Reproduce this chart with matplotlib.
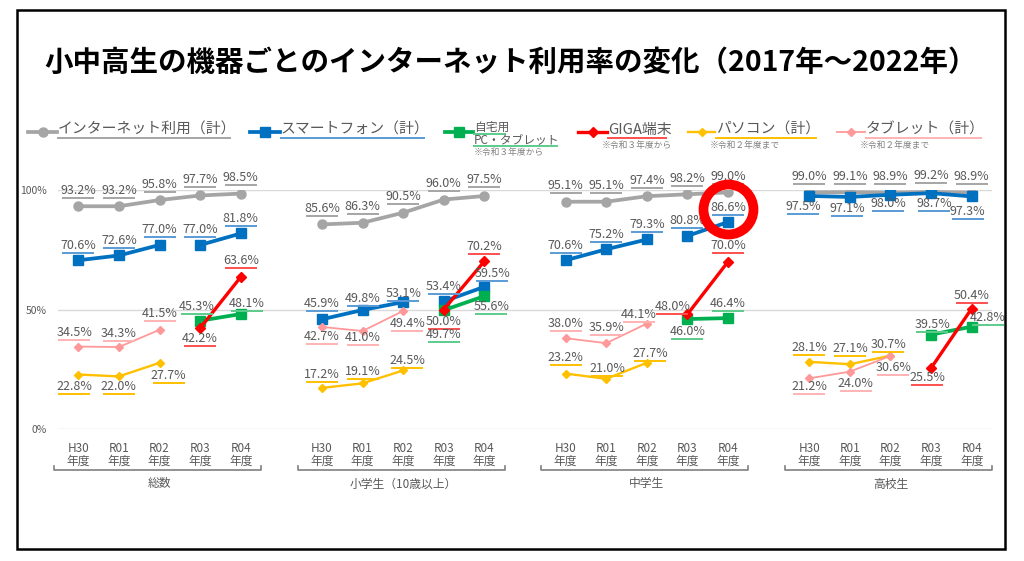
import numpy as np
import matplotlib
matplotlib.use("Agg")
import matplotlib.pyplot as plt
from matplotlib.transforms import ScaledTranslation, blended_transform_factory
from matplotlib.patches import Rectangle
from matplotlib.lines import Line2D

plt.rcParams['font.family'] = ['Noto Sans CJK JP', 'DejaVu Sans']

nan = np.nan

# ---------------- data ----------------
title = "小中高生の機器ごとのインターネット利用率の変化（2017年～2022年）"
groups = ["総数", "小学生（10歳以上）", "中学生", "高校生"]
years = ["H30\n年度", "R01\n年度", "R02\n年度", "R03\n年度", "R04\n年度"]

internet = [[93.2, 93.2, 95.8, 97.7, 98.5],
            [85.6, 86.3, 90.5, 96.0, 97.5],
            [95.1, 95.1, 97.4, 98.2, 99.0],
            [99.0, 99.1, 98.9, 99.2, 98.9]]
smartphone = [[70.6, 72.6, 77.0, 77.0, 81.8],
              [45.9, 49.8, 53.1, 53.4, 59.5],
              [70.6, 75.2, 79.3, 80.8, 86.6],
              [97.5, 97.1, 98.0, 98.7, 97.3]]
smartphone_connected = [False, False, False, True]
home_pc_tablet = [[nan, nan, nan, 45.3, 48.1],
                  [nan, nan, nan, 49.7, 55.6],
                  [nan, nan, nan, 46.0, 46.4],
                  [nan, nan, nan, 39.5, 42.8]]
giga = [[nan, nan, nan, 42.2, 63.6],
        [nan, nan, nan, 50.0, 70.2],
        [nan, nan, nan, 48.0, 70.0],
        [nan, nan, nan, 25.5, 50.4]]
pc = [[22.8, 22.0, 27.7, nan, nan],
      [17.2, 19.1, 24.5, nan, nan],
      [23.2, 21.0, 27.7, nan, nan],
      [28.1, 27.1, 30.7, nan, nan]]
tablet = [[34.5, 34.3, 41.5, nan, nan],
          [42.7, 41.0, 49.4, nan, nan],
          [38.0, 35.9, 44.1, nan, nan],
          [21.2, 24.0, 30.6, nan, nan]]

legend_names = ["インターネット利用（計）", "スマートフォン（計）", "自宅用\nPC・タブレット",
                "GIGA端末", "パソコン（計）", "タブレット（計）"]
legend_notes = ["", "", "※令和３年度から", "※令和３年度から", "※令和２年度まで", "※令和２年度まで"]

# ------------- label placement (pixel offsets: dx right, dy up) -------------
N = None
off_internet = [[(0, 16)] * 5] * 4
off_smartphone = [[(0, 15)] * 5,
                  [(0, 16), (0, 11), (0, 9), (0, 15), (8, 13)],
                  [(0, 15)] * 5,
                  [(-6, -11), (-3, -12), (-2, -9), (3, -10), (-4, -15)]]
off_home = [[N, N, N, (-3, 14), (6, 11)],
            [N, N, N, (0, -24), (7, -10)],
            [N, N, N, (0, -12), (0, 15)],
            [N, N, N, (1, 10), (16, 9)]]
off_giga = [[N, N, N, (0, -10), (0, 16)],
            [N, N, N, (0, -12), (0, 15)],
            [N, N, N, (-15, 8), (0, 16)],
            [N, N, N, (-4, -9), (0, 13)]]
off_pc = [[(-4, -12), (0, -10), (9, -13), N, N],
          [(0, 13), (0, 12), (4, 10), N, N],
          [(0, 16), (1, 10), (3, 9), N, N],
          [(0, 14), (0, 16), (-2, 11), N, N]]
off_tablet = [[(-4, 14), (0, 14), (0, 16), N, N],
              [(0, -10), (0, -6), (4, -13), N, N],
              [(0, 15), (0, 16), (-8, 9), N, N],
              [(0, -8), (6, -12), (3, -12), N, N]]

W, H, DPI = 1024, 561, 100
fig = plt.figure(figsize=(W / DPI, H / DPI), dpi=DPI)


def fx(x):
    return x / W


def fy(y):
    return 1 - y / H


TXT = '#595959'

# frame
fig.patches.append(Rectangle((fx(17), fy(549)), (1005 - 17) / W, (549 - 10) / H,
                             transform=fig.transFigure, fill=False,
                             edgecolor='black', linewidth=1.8))

fig.text(fx(511), fy(63), title, ha='center', va='center', fontsize=20.5,
         fontweight='bold', color='black')

ax = fig.add_axes([fx(58), fy(429), (992 - 58) / W, (429 - 190) / H])
ax.set_xlim(-0.5, 22.5)
ax.set_ylim(0, 100)
for s in ax.spines.values():
    s.set_visible(False)
ax.set_yticks([0, 50, 100])
ax.set_yticklabels(["0%", "50%", "100%"])
ax.yaxis.grid(True, color='#D9D9D9', linewidth=1)
ax.set_axisbelow(True)
ax.tick_params(axis='y', length=0, pad=8, labelsize=7.5, labelcolor=TXT)

slots = [g * 6 + i for g in range(4) for i in range(5)]
ax.set_xticks(slots)
ax.set_xticklabels(years * 4, linespacing=1.0)
ax.tick_params(axis='x', length=0, pad=9, labelsize=8.5, labelcolor=TXT)

series = [
    dict(data=internet, off=off_internet, color='#A5A5A5', ul='#A5A5A5', lw=2.7,
         marker='o', ms=6.5, conn=[True] * 4),
    dict(data=smartphone, off=off_smartphone, color='#0070C0', ul='#5B9BD5', lw=2.7,
         marker='s', ms=6.5, conn=smartphone_connected),
    dict(data=home_pc_tablet, off=off_home, color='#00B050', ul='#5CCB8A', lw=2.7,
         marker='s', ms=6.5, conn=[True] * 4),
    dict(data=giga, off=off_giga, color='#FF0000', ul='#FF5050', lw=2.4,
         marker='D', ms=5.5, conn=[True] * 4),
    dict(data=pc, off=off_pc, color='#FFC000', ul='#FFC000', lw=1.7,
         marker='D', ms=4.5, conn=[True] * 4),
    dict(data=tablet, off=off_tablet, color='#FF9999', ul='#FFB3B3', lw=1.3,
         marker='D', ms=4.5, conn=[True] * 4),
]


def shift(dx, dy):
    return ax.transData + ScaledTranslation(dx / DPI, dy / DPI, fig.dpi_scale_trans)


for z, s in enumerate(series):
    for g in range(4):
        xs = np.array([g * 6 + i for i in range(5)], dtype=float)
        ys = np.array(s['data'][g], dtype=float)
        if s['conn'][g]:
            segs = [(0, 5)]
        else:
            segs = [(0, 3), (3, 5)]
        for a, b in segs:
            m = ~np.isnan(ys[a:b])
            ax.plot(xs[a:b][m], ys[a:b][m], color=s['color'], lw=s['lw'],
                    marker=s['marker'], ms=s['ms'], mec=s['color'], mfc=s['color'],
                    zorder=2 + z, solid_capstyle='round')
        for i in range(5):
            v = ys[i]
            if np.isnan(v):
                continue
            dx, dy = s['off'][g][i]
            ax.text(xs[i], v, f"{v:.1f}%", transform=shift(dx, dy), ha='center',
                    va='center', fontsize=9, color=TXT, zorder=20, clip_on=False)
            ax.plot([xs[i]], [v], marker='_', ms=23, mew=1.4, color=s['ul'],
                    transform=shift(dx, dy - 7.5), zorder=19, clip_on=False)

# highlight ring on 中学生 R04 smartphone value
ax.plot([2 * 6 + 4], [smartphone[2][4]], marker='o', ms=36, mfc='none', mec='#FF0000',
        mew=7, transform=shift(0, 13), zorder=30, clip_on=False)

# brackets + group labels
trans = blended_transform_factory(ax.transData, fig.transFigure)
for g, name in enumerate(groups):
    x0, x1 = g * 6 - 0.6, g * 6 + 4 + 0.5
    ax.plot([x0, x0, x1, x1], [fy(466), fy(470), fy(470), fy(466)], transform=trans,
            clip_on=False, color='#7F7F7F', lw=1.2)
    ax.text(g * 6 + 2, fy(484), name, transform=trans, ha='center', va='center',
            fontsize=8.5, color=TXT)

# legend
leg = [  # line x0, x1, text x, underline x1
    (28, 57, 58, 230),
    (250, 280, 281, 424),
    (445, 473, 474, 557),
    (578, 607, 608, 666),
    (688, 715, 716, 816),
    (837, 865, 866, 981),
]
for k, (s, (lx0, lx1, tx, ux1)) in enumerate(zip(series, leg)):
    ly = 132
    fig.add_artist(Line2D([fx(lx0), fx((lx0 + lx1) / 2), fx(lx1)], [fy(ly)] * 3,
                          transform=fig.transFigure, color=s['color'], lw=s['lw'],
                          marker=s['marker'], ms=s['ms'], markevery=[1]))
    name = legend_names[k]
    if "\n" in name:
        l1, l2 = name.split("\n")
        fig.text(fx(tx), fy(127), l1, ha='left', va='center', fontsize=8.5, color=TXT)
        fig.add_artist(Line2D([fx(tx), fx(tx + 31)], [fy(134)] * 2, transform=fig.transFigure,
                              color=s['ul'], lw=1.4))
        fig.text(fx(tx), fy(140), l2, ha='left', va='center', fontsize=8.5, color=TXT)
        fig.add_artist(Line2D([fx(tx), fx(ux1)], [fy(146)] * 2, transform=fig.transFigure,
                              color=s['ul'], lw=1.4))
        fig.text(fx(tx), fy(153), legend_notes[k], ha='left', va='center', fontsize=6.3,
                 color='#7F7F7F')
    else:
        fig.text(fx(tx), fy(130), name, ha='left', va='center', fontsize=10.7, color=TXT)
        fig.add_artist(Line2D([fx(tx), fx(ux1)], [fy(138)] * 2, transform=fig.transFigure,
                              color=s['ul'], lw=1.4))
        if legend_notes[k]:
            fig.text(fx(tx - 6), fy(145), legend_notes[k], ha='left', va='center',
                     fontsize=6.3, color='#7F7F7F')

fig.savefig("out.png", dpi=DPI)
